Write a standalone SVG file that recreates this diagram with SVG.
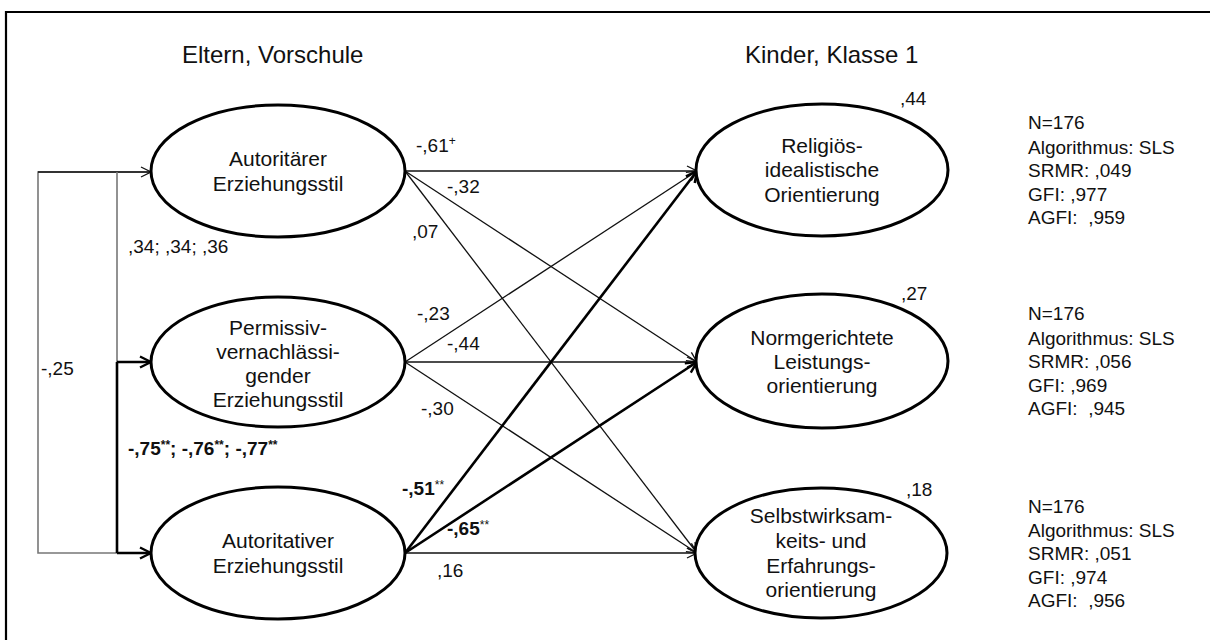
<svg xmlns="http://www.w3.org/2000/svg" width="1210" height="640" viewBox="0 0 1210 640">
  <defs>
    <style>
      text { font-family: "Liberation Sans", Arial, sans-serif; fill: #111; }
      .title { font-size: 24px; }
      .node-label { font-size: 21px; text-anchor: middle; }
      .coef { font-size: 19px; }
      .coef-bold { font-size: 19px; font-weight: bold; }
      .sup { font-size: 12px; }
      .fit { font-size: 19px; white-space: pre; }
      .node { fill: #fff; stroke: #000; stroke-width: 3; }
      .path-thin { fill: none; stroke: #111; stroke-width: 1.3; }
      .path-thick { fill: none; stroke: #000; stroke-width: 2.6; }
      .cov-grey { fill: none; stroke: #777; stroke-width: 1.6; }
      .cov-thick { fill: none; stroke: #000; stroke-width: 2.6; }
    </style>
    <marker id="arrow-thin" viewBox="0 0 12 12" refX="11" refY="6" markerWidth="12" markerHeight="12" markerUnits="userSpaceOnUse" orient="auto">
      <path d="M1,1 L11,6 L1,11" fill="none" stroke="#111" stroke-width="1.3"/>
    </marker>
    <marker id="arrow-thick" viewBox="0 0 14 14" refX="12.5" refY="7" markerWidth="14" markerHeight="14" markerUnits="userSpaceOnUse" orient="auto">
      <path d="M1.5,1.5 L12.5,7 L1.5,12.5" fill="none" stroke="#000" stroke-width="2.4"/>
    </marker>
  </defs>

  <rect width="1210" height="640" fill="#fff"/>

  <!-- outer frame (open at the right and bottom edges) -->
  <path d="M6,640 L6,12 L1210,12" fill="none" stroke="#000" stroke-width="2.2"/>

  <!-- column headings -->
  <text class="title" x="182" y="63">Eltern, Vorschule</text>
  <text class="title" x="745" y="63">Kinder, Klasse 1</text>

  <!-- connectors -->
  <g id="connectors">
    <!-- correlations between parenting styles -->
    <path class="cov-grey" d="M151,172 L38,172 L38,553 L117,553"/>
    <path class="path-thin" d="M38,172 L151,172" marker-end="url(#arrow-thin)"/>
    <path class="cov-grey" d="M117,172 L117,362"/>
    <path class="cov-thick" d="M117,362 L117,553"/>
    <path class="cov-thick" d="M117,362 L151,362" marker-end="url(#arrow-thick)"/>
    <path class="cov-thick" d="M117,553 L151,553" marker-end="url(#arrow-thick)"/>

    <!-- paths from Autoritärer Erziehungsstil -->
    <path class="path-thin" d="M405,171 L697,171" marker-end="url(#arrow-thin)"/>
    <path class="path-thin" d="M405,171 L697,362" marker-end="url(#arrow-thin)"/>
    <path class="path-thin" d="M405,171 L697,553" marker-end="url(#arrow-thin)"/>

    <!-- paths from Permissiv-vernachlässigender Erziehungsstil -->
    <path class="path-thin" d="M405,362 L697,171" marker-end="url(#arrow-thin)"/>
    <path class="path-thin" d="M405,362 L697,362" marker-end="url(#arrow-thin)"/>
    <path class="path-thin" d="M405,362 L697,553" marker-end="url(#arrow-thin)"/>

    <!-- paths from Autoritativer Erziehungsstil -->
    <path class="path-thick" d="M405,553 L697,171" marker-end="url(#arrow-thick)"/>
    <path class="path-thick" d="M405,553 L697,362" marker-end="url(#arrow-thick)"/>
    <path class="path-thin" d="M405,553 L697,553" marker-end="url(#arrow-thin)"/>
  </g>

  <!-- coefficients -->
  <g id="coefficients">
    <text class="coef" x="128" y="253">,34; ,34; ,36</text>
    <text class="coef" x="41" y="375">-,25</text>
    <text class="coef-bold" x="128" y="455">-,75<tspan class="sup" dy="-6">**</tspan><tspan dy="6">; -,76</tspan><tspan class="sup" dy="-6">**</tspan><tspan dy="6">; -,77</tspan><tspan class="sup" dy="-6">**</tspan></text>

    <text class="coef" x="416" y="152">-,61<tspan class="sup" dy="-7">+</tspan></text>
    <text class="coef" x="447" y="193">-,32</text>
    <text class="coef" x="412" y="238">,07</text>
    <text class="coef" x="417" y="320">-,23</text>
    <text class="coef" x="447" y="350">-,44</text>
    <text class="coef" x="421" y="415">-,30</text>
    <text class="coef-bold" x="402" y="495">-,51<tspan class="sup" style="font-weight:normal" dy="-6">**</tspan></text>
    <text class="coef-bold" x="447" y="535">-,65<tspan class="sup" style="font-weight:normal" dy="-6">**</tspan></text>
    <text class="coef" x="437" y="577">,16</text>

    <!-- explained variance -->
    <text class="coef" x="900" y="105">,44</text>
    <text class="coef" x="901" y="300">,27</text>
    <text class="coef" x="906" y="496">,18</text>
  </g>

  <!-- predictor nodes -->
  <g id="autoritaer">
    <ellipse class="node" cx="278" cy="171" rx="127" ry="66"/>
    <text class="node-label" x="278" y="166">Autoritärer</text>
    <text class="node-label" x="278" y="191">Erziehungsstil</text>
  </g>
  <g id="permissiv">
    <ellipse class="node" cx="278" cy="362" rx="127" ry="65"/>
    <text class="node-label" x="278" y="335">Permissiv-</text>
    <text class="node-label" x="278" y="359">vernachlässi-</text>
    <text class="node-label" x="278" y="383">gender</text>
    <text class="node-label" x="278" y="407">Erziehungsstil</text>
  </g>
  <g id="autoritativ">
    <ellipse class="node" cx="278" cy="553" rx="127" ry="66"/>
    <text class="node-label" x="278" y="548">Autoritativer</text>
    <text class="node-label" x="278" y="573">Erziehungsstil</text>
  </g>

  <!-- outcome nodes -->
  <g id="religioes">
    <ellipse class="node" cx="822" cy="170" rx="126" ry="66"/>
    <text class="node-label" x="822" y="153">Religiös-</text>
    <text class="node-label" x="822" y="177">idealistische</text>
    <text class="node-label" x="822" y="202">Orientierung</text>
  </g>
  <g id="normgerichtet">
    <ellipse class="node" cx="822" cy="361" rx="126" ry="67"/>
    <text class="node-label" x="822" y="345">Normgerichtete</text>
    <text class="node-label" x="822" y="369">Leistungs-</text>
    <text class="node-label" x="822" y="393">orientierung</text>
  </g>
  <g id="selbstwirksam">
    <ellipse class="node" cx="821" cy="553" rx="126" ry="65"/>
    <text class="node-label" x="821" y="523">Selbstwirksam-</text>
    <text class="node-label" x="821" y="548">keits- und</text>
    <text class="node-label" x="821" y="573">Erfahrungs-</text>
    <text class="node-label" x="821" y="597">orientierung</text>
  </g>

  <!-- model fit statistics -->
  <g id="fit-religioes">
    <text class="fit" x="1028" y="129">N=176</text>
    <text class="fit" x="1028" y="154">Algorithmus: SLS</text>
    <text class="fit" x="1028" y="177">SRMR: ,049</text>
    <text class="fit" x="1028" y="201">GFI: ,977</text>
    <text class="fit" x="1028" y="224">AGFI:  ,959</text>
  </g>
  <g id="fit-normgerichtet">
    <text class="fit" x="1028" y="320">N=176</text>
    <text class="fit" x="1028" y="345">Algorithmus: SLS</text>
    <text class="fit" x="1028" y="368">SRMR: ,056</text>
    <text class="fit" x="1028" y="392">GFI: ,969</text>
    <text class="fit" x="1028" y="415">AGFI:  ,945</text>
  </g>
  <g id="fit-selbstwirksam">
    <text class="fit" x="1028" y="513">N=176</text>
    <text class="fit" x="1028" y="537">Algorithmus: SLS</text>
    <text class="fit" x="1028" y="560">SRMR: ,051</text>
    <text class="fit" x="1028" y="584">GFI: ,974</text>
    <text class="fit" x="1028" y="607">AGFI:  ,956</text>
  </g>
</svg>
